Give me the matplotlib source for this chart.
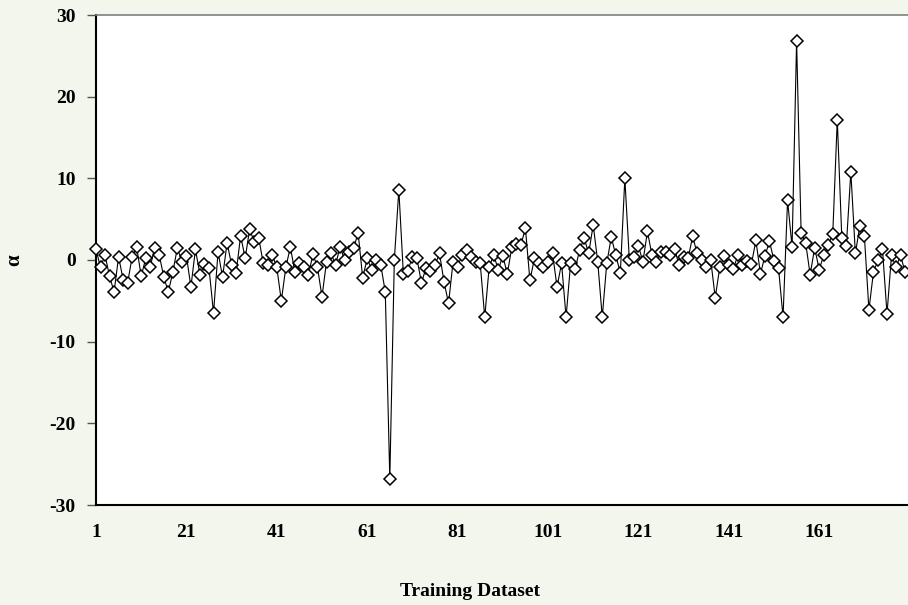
import matplotlib
matplotlib.use("Agg")
import matplotlib.pyplot as plt

# ---- data ----
alpha_values = [
    1.3, -0.9, 0.6, -2.0, -3.9, 0.4, -2.4, -2.8, 0.4, 1.6,
    -2.0, 0.2, -0.8, 1.5, 0.6, -2.1, -3.9, -1.5, 1.5, -0.2,
    0.5, -3.3, 1.3, -1.8, -0.5, -1.0, -6.5, 1.0, -2.1, 2.1,
    -0.6, -1.6, 3.0, 0.2, 3.8, 2.2, 2.7, -0.4, -0.6, 0.6,
    -0.9, -5.0, -0.9, 1.6, -1.5, -0.4, -0.8, -1.8, 0.7, -0.9,
    -4.5, -0.2, 0.8, -0.6, 1.6, 0.0, 1.0, 1.5, 3.3, -2.2,
    0.2, -1.2, 0.0, -0.6, -3.9, -26.8, 0.0, 8.6, -1.7, -1.3,
    0.4, 0.2, -2.8, -1.0, -1.4, -0.6, 0.8, -2.7, -5.3, -0.2,
    -0.8, 0.6, 1.2, 0.4, -0.2, -0.4, -7.0, -0.8, 0.6, -1.2,
    0.5, -1.7, 1.6, 2.0, 1.8, 3.9, -2.5, 0.2, -0.4, -0.9,
    -0.2, 0.8, -3.3, -0.4, -7.0, -0.4, -1.1, 1.2, 2.7, 0.8,
    4.3, -0.2, -7.0, -0.4, 2.8, 0.6, -1.6, 10.0, 0.0, 0.4,
    1.7, -0.2, 3.5, 0.6, -0.2, 1.0, 1.0, 0.6, 1.3, -0.6,
    0.4, 0.2, 2.9, 0.8, 0.0, -0.9, 0.0, -4.6, -0.9, 0.5,
    -0.6, -1.1, 0.6, -0.6, -0.1, -0.5, 2.4, -1.7, 0.5, 2.3,
    -0.1, -1.0, -7.0, 7.3, 1.6, 26.8, 3.3, 2.1, -1.8, 1.5,
    -1.2, 0.6, 1.8, 3.2, 17.2, 2.7, 1.7, 10.8, 0.8, 4.2,
    2.9, -6.1, -1.5, 0.0, 1.3, -6.6, 0.6, -0.9, 0.6, -1.5,
]
sample_index = list(range(1, len(alpha_values) + 1))
x_ticks = [1, 21, 41, 61, 81, 101, 121, 141, 161]
y_ticks = [-30, -20, -10, 0, 10, 20, 30]
x_title = "Training Dataset"
y_title = "α"

# ---- figure ----
W, H = 908, 605
fig = plt.figure(figsize=(W / 100, H / 100), dpi=100)
fig.patch.set_facecolor("#F3F6ED")

left_px, top_px, bottom_px = 96, 15, 505
px_per_unit = 4.52
xmax = 185
right_px = left_px + (xmax - 1) * px_per_unit
ax = fig.add_axes([left_px / W, 1 - bottom_px / H,
                   (right_px - left_px) / W, (bottom_px - top_px) / H])
ax.set_facecolor("white")

ax.plot(sample_index, alpha_values, color="black", lw=0.8,
        marker="D", ms=6.2, mfc="white", mec="black", mew=1.1,
        clip_on=False, zorder=3)

ax.set_xlim(1, xmax)
ax.set_ylim(-30, 30)
ax.set_xticks(x_ticks)
ax.set_yticks(y_ticks)

font = dict(family="Liberation Serif", weight="bold", size=14)
ax.set_xticklabels([str(t) for t in x_ticks], fontdict=font)
ax.set_yticklabels([str(t) for t in y_ticks], fontdict=font)
ax.tick_params(axis="y", direction="out", length=6.5, width=1, color="#555555", pad=8)
ax.tick_params(axis="x", direction="out", length=0, pad=14)

for s in ["left", "bottom"]:
    ax.spines[s].set_color("black")
    ax.spines[s].set_linewidth(1.5)
for s in ["top", "right"]:
    ax.spines[s].set_color("#808080")
    ax.spines[s].set_linewidth(1.2)

fig.text(470 / W, 1 - 591 / H, x_title, ha="center", va="center",
         family="Liberation Serif", weight="bold", size=14)
fig.text(14 / W, 1 - 260 / H, y_title, ha="center", va="center", rotation=90,
         family="Liberation Serif", weight="bold", size=15)

fig.savefig("out.png", dpi=100, facecolor=fig.get_facecolor())
